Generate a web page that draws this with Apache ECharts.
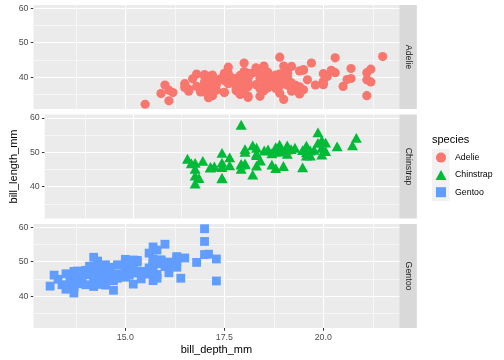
<!DOCTYPE html>
<html><head><meta charset="utf-8">
<script src="https://cdn.jsdelivr.net/npm/echarts@6/dist/echarts.min.js"></script>
<style>html,body{margin:0;padding:0;background:#fff}#c{width:504px;height:360px}</style>
</head><body><div id="c"></div>
<script>
// [bill_depth_mm, bill_length_mm]
const species = ['Adelie', 'Chinstrap', 'Gentoo'];
const adelie = [
[18.7,39.1],[17.4,39.5],[18.0,40.3],[19.3,36.7],[20.6,39.3],[17.8,38.9],[19.6,39.2],[18.1,34.1],[20.2,42.0],[17.1,37.8],[17.3,37.8],[17.6,41.1],[21.2,38.6],[21.1,34.6],[17.8,36.6],[19.0,38.7],[20.7,42.5],[18.4,34.4],[21.5,46.0],
[18.3,37.8],[18.7,37.7],[19.2,35.9],[18.1,38.2],[17.2,38.8],[18.9,35.3],[18.6,40.6],[17.9,40.5],[18.6,37.9],[18.9,40.5],
[16.7,39.5],[18.1,37.2],[17.8,39.5],[18.9,40.9],[17.0,36.4],[21.1,39.2],[20.0,38.8],[18.5,42.2],[19.3,37.6],[19.1,39.8],[18.0,36.5],[18.4,40.8],[18.5,36.0],[19.7,44.1],[16.9,37.0],[18.8,39.6],[19.0,41.1],[18.9,37.5],[17.9,36.0],[21.2,42.3],
[17.7,39.6],[18.9,40.1],[17.9,35.0],[19.5,42.0],[18.1,34.5],[18.6,41.4],[17.5,39.0],[18.8,40.6],[16.6,36.5],[19.1,37.6],[16.9,35.7],[21.1,41.3],[17.0,37.6],[18.2,41.1],[17.1,36.4],[18.0,41.6],[16.2,35.5],[19.1,41.1],
[16.6,35.9],[19.4,41.8],[19.0,33.5],[18.4,39.7],[17.2,39.6],[18.9,45.8],[17.5,35.5],[18.5,42.8],[16.8,40.9],[19.4,37.2],[16.1,36.2],[19.1,42.1],[17.2,34.6],[17.6,42.9],[18.8,36.7],[19.4,35.1],
[17.8,37.3],[20.3,41.3],[19.5,36.3],[18.6,36.9],[19.2,38.3],[18.8,38.9],[18.0,35.7],[18.1,41.1],[17.1,34.0],[18.1,39.6],[17.3,36.2],[18.9,40.8],[18.6,38.1],[18.5,40.3],[16.1,33.1],[18.5,43.2],
[17.9,35.0],[20.0,41.0],[16.0,37.7],[20.0,37.8],[18.6,37.9],[18.9,39.7],[17.2,38.6],[20.0,38.2],[17.0,38.1],[19.0,43.2],[16.5,38.1],[20.3,45.6],[17.7,39.7],[19.5,42.2],[20.7,39.6],[18.3,42.7],
[17.0,38.6],[20.5,37.3],[17.0,35.7],[18.6,41.1],[17.2,36.2],[19.8,37.7],[17.0,40.2],[18.5,41.4],[15.9,35.2],[19.0,40.6],[17.6,38.8],[18.3,41.5],[17.1,39.0],[18.0,44.1],[17.9,38.5],[19.2,43.1],
[18.5,36.8],[18.5,37.5],[17.6,38.1],[17.5,41.1],[17.5,35.6],[20.1,40.2],[16.5,37.0],[17.9,39.7],[17.1,40.2],[17.2,40.6],[15.5,32.1],[17.0,40.7],[16.8,37.3],[18.7,39.0],[18.6,39.2],[18.4,36.6],[17.8,36.0],[18.1,37.8],[17.1,36.0],[18.5,41.5]
];
const chinstrap = [
[17.9,46.5],[19.5,50.0],[19.2,51.3],[18.7,45.4],[19.8,52.7],[17.8,45.2],[18.2,46.1],[18.2,51.3],[18.9,46.0],[19.9,51.3],
[17.8,46.6],[20.3,51.7],[17.3,47.0],[18.1,52.0],[17.1,45.9],[19.6,50.5],[20.0,50.3],[17.8,58.0],[18.6,46.4],[18.2,49.2],
[17.3,42.4],[17.5,48.5],[16.6,43.2],[19.4,50.6],[17.9,46.7],[19.0,52.0],[18.4,50.5],[19.0,49.5],[17.8,46.4],[20.0,52.8],
[16.6,40.9],[20.8,54.2],[16.7,42.5],[18.8,51.0],[18.6,49.7],[16.8,47.5],[18.3,47.6],[20.7,52.0],[16.6,46.9],[19.9,53.5],
[19.5,49.0],[17.5,46.2],[19.1,50.9],[17.0,45.5],[17.9,50.9],[18.5,50.8],[17.9,50.1],[19.6,49.0],[18.7,51.5],[17.3,49.8],
[16.4,48.1],[19.0,51.4],[17.3,45.7],[19.7,50.7],[17.3,42.5],[18.8,52.2],[16.6,45.2],[19.9,49.3],[18.8,50.2],[19.4,45.6],
[19.5,51.9],[16.5,46.8],[17.0,45.7],[19.8,55.8],[18.1,43.5],[18.2,49.6],[19.0,50.8],[18.7,50.2]
];
const gentoo = [
[13.2,46.1],[16.3,50.0],[14.1,48.7],[15.2,50.0],[14.5,47.6],[13.5,46.5],[14.6,45.4],[15.3,46.7],[13.4,43.3],[15.4,46.8],
[13.7,40.9],[16.1,49.0],[13.7,45.5],[14.6,48.4],[14.6,45.8],[15.7,49.3],[13.5,42.0],[15.2,49.2],[14.5,46.2],[15.1,48.7],
[14.3,50.2],[14.5,45.1],[14.5,46.5],[15.8,46.3],[13.1,42.9],[15.1,46.1],[14.3,44.5],[15.0,47.8],[14.3,48.2],[15.3,50.0],
[15.3,47.3],[14.2,42.8],[14.5,45.1],[17.0,59.6],[14.8,49.1],[16.3,48.4],[13.7,42.6],[17.3,44.4],[13.6,44.0],[15.7,48.7],
[13.7,42.7],[16.0,49.6],[13.7,45.3],[15.0,49.6],[15.9,50.5],[13.9,43.6],[13.9,45.5],[15.9,50.5],[13.3,44.9],[15.8,45.2],
[14.2,46.6],[14.1,48.5],[14.4,45.1],[15.0,50.1],[14.4,46.5],[15.4,45.0],[13.9,43.8],[15.0,45.5],[14.5,43.2],[15.3,50.4],
[13.8,45.3],[14.9,46.2],[13.9,45.7],[15.7,54.3],[14.2,45.8],[16.8,49.8],[14.4,46.2],[16.2,49.5],[14.2,43.5],[15.0,50.7],
[15.0,47.7],[15.6,46.4],[15.6,48.2],[14.8,46.5],[15.0,46.4],[16.0,48.6],[14.2,47.5],[16.3,51.1],[13.8,45.2],[16.4,45.2],
[14.5,49.1],[15.6,52.5],[14.6,47.4],[15.9,50.0],[13.8,44.9],[17.3,50.8],[14.4,43.4],[14.2,51.3],[14.0,47.5],[17.0,52.1],
[15.0,47.5],[17.1,52.2],[14.5,45.5],[16.1,49.5],[14.7,44.5],[15.7,50.8],[15.8,49.4],[14.6,46.9],[14.4,48.4],[16.5,51.1],
[15.0,48.5],[17.0,55.9],[15.5,47.2],[15.0,49.1],[13.8,47.3],[16.1,46.8],[14.7,41.7],[15.8,53.4],[14.0,43.3],[15.1,48.1],
[15.2,50.5],[15.9,49.8],[15.2,43.5],[16.3,51.5],[14.1,46.2],[16.0,55.1],[15.7,44.5],[16.2,48.8],[13.7,47.2],[14.3,46.8],
[15.7,50.4],[14.8,45.2],[16.1,49.9]
];
const xBreaks = [15, 17.5, 20];
const xLabels = ['15.0', '17.5', '20.0'];
const xMinor = [13.75, 16.25, 18.75, 21.25];
const yBreaks = [40, 50, 60];
const yLabels = ['40', '50', '60'];
const yMinor = [35, 45, 55];

const groups = [adelie, chinstrap, gentoo];
const colors = ['#F8766D', '#00BA38', '#619CFF'];
const symbols = ['circle', 'triangle', 'rect'];
const symSizes = [9.2, [11, 9.8], 8.8];
const legendIcons = ['circle', 'triangle', 'path://M0,0H10V10H0Z'];

const all = adelie.concat(chinstrap, gentoo);
function expandRange(a) { const lo = Math.min(...a), hi = Math.max(...a), e = (hi - lo) * 0.05; return [lo - e, hi + e]; }
const [xMin, xMax] = expandRange(all.map(d => d[0]));
const [yMin, yMax] = expandRange(all.map(d => d[1]));

const FONT = '"Liberation Sans", Arial, sans-serif';
const panelTop = [5, 114.5, 224], panelH = 104, panelL = 33.5, panelR = 399.3, stripW = 17.5;

const grids = [], xAxes = [], yAxes = [], series = [], graphics = [];
for (let i = 0; i < 3; i++) {
  grids.push({ left: panelL, width: panelR - panelL, top: panelTop[i], height: panelH, show: true, backgroundColor: '#EBEBEB', borderWidth: 0, z: 0 });
  const bottom = i === 2;
  xAxes.push({
    type: 'value', gridIndex: i, min: xMin, max: xMax,
    axisLine: { show: false }, splitLine: { show: false },
    axisTick: { show: bottom, customValues: xBreaks, length: 2.75, lineStyle: { color: '#333333', width: 1 } },
    axisLabel: { show: bottom, customValues: xBreaks, formatter: v => xLabels[xBreaks.indexOf(v)], color: '#4D4D4D', fontSize: 8.8, fontFamily: FONT, margin: 5 },
    name: bottom ? 'bill_depth_mm' : '', nameLocation: 'middle', nameGap: 16,
    nameTextStyle: { fontSize: 11, color: '#000', fontFamily: FONT }
  });
  yAxes.push({
    type: 'value', gridIndex: i, min: yMin, max: yMax,
    axisLine: { show: false }, splitLine: { show: false },
    axisTick: { show: true, customValues: yBreaks, length: 2.75, lineStyle: { color: '#333333', width: 1 } },
    axisLabel: { customValues: yBreaks, formatter: v => yLabels[yBreaks.indexOf(v)], color: '#4D4D4D', fontSize: 8.8, fontFamily: FONT, margin: 5 },
    name: i === 1 ? 'bill_length_mm' : '', nameLocation: 'middle', nameRotate: 90, nameGap: 23.5,
    nameTextStyle: { fontSize: 11, color: '#000', fontFamily: FONT }
  });
  const gl = [];
  xMinor.forEach(v => gl.push({ xAxis: v, lineStyle: { width: 0.55 } }));
  yMinor.forEach(v => gl.push({ yAxis: v, lineStyle: { width: 0.55 } }));
  xBreaks.forEach(v => gl.push({ xAxis: v, lineStyle: { width: 1.1 } }));
  yBreaks.forEach(v => gl.push({ yAxis: v, lineStyle: { width: 1.1 } }));
  series.push({
    name: '_grid' + i, type: 'scatter', xAxisIndex: i, yAxisIndex: i, data: [], z: 1, silent: true,
    markLine: { z: 1, zlevel: 0, silent: true, symbol: ['none', 'none'], label: { show: false }, animation: false,
      lineStyle: { color: '#FFFFFF', type: 'solid' }, emphasis: { disabled: true }, data: gl }
  });
  series.push({
    name: species[i], type: 'scatter', xAxisIndex: i, yAxisIndex: i, z: 3,
    data: groups[i], symbol: symbols[i], symbolSize: symSizes[i],
    itemStyle: { color: colors[i], opacity: 1 }, emphasis: { disabled: true }
  });
  graphics.push({ type: 'rect', shape: { x: panelR, y: panelTop[i], width: stripW, height: panelH }, style: { fill: '#D9D9D9' }, silent: true });
  graphics.push({ type: 'text', x: panelR + stripW / 2, y: panelTop[i] + panelH / 2, rotation: -Math.PI / 2,
    style: { text: species[i], fill: '#1A1A1A', fontSize: 8.8, fontFamily: FONT, align: 'center', verticalAlign: 'middle', textAlign: 'center', textVerticalAlign: 'middle' }, silent: true });
}
graphics.push({ type: 'rect', shape: { x: 432, y: 149, width: 17.5, height: 52 }, style: { fill: '#F2F2F2' }, silent: true, z: 0 });
graphics.push({ type: 'text', x: 432, y: 139.5, style: { text: 'species', fill: '#000', fontSize: 11, fontFamily: FONT, align: 'left', verticalAlign: 'middle', textAlign: 'left', textVerticalAlign: 'middle' }, silent: true });

const chart = echarts.init(document.getElementById('c'), null, { renderer: 'canvas' });
chart.setOption({
  animation: false,
  backgroundColor: '#FFFFFF',
  textStyle: { fontFamily: FONT },
  grid: grids, xAxis: xAxes, yAxis: yAxes, series: series,
  legend: {
    orient: 'vertical', left: 435.5, top: 152.6, padding: 0, itemWidth: 11, itemHeight: 10, itemGap: 7.3,
    selectedMode: false, z: 10,
    textStyle: { fontSize: 8.8, color: '#000', fontFamily: FONT, lineHeight: 10, padding: [0, 0, 0, 3.5] },
    data: species.map((s, i) => ({ name: s, icon: legendIcons[i] }))
  },
  graphic: graphics
});
</script>
</body></html>
